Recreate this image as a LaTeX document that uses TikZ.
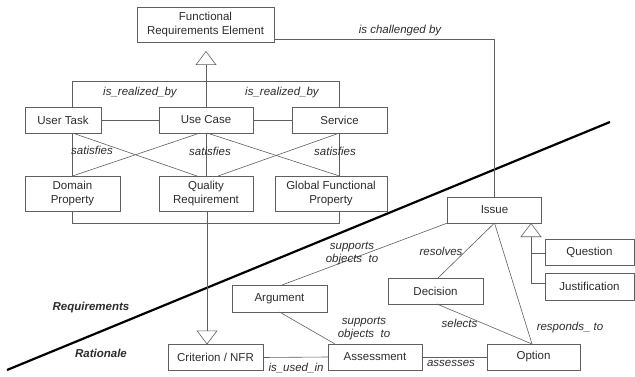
\documentclass[tikz,border=0pt]{standalone}
\usepackage{fontspec}
\setmainfont{Liberation Sans}
\usetikzlibrary{arrows.meta}
\definecolor{linec}{RGB}{95,95,95}
\definecolor{textc}{RGB}{45,45,45}
\begin{document}
\begin{tikzpicture}[x=1pt,y=-1pt,
  font=\fontsize{11.5}{14}\selectfont,
  box/.style={draw=linec, line width=0.6pt, text=textc, inner sep=0pt, outer sep=0pt, align=center},
  lbl/.style={text=textc, font=\fontsize{11.5}{13}\selectfont\itshape, inner sep=0pt, align=center},
  zone/.style={text=textc, font=\fontsize{11.5}{13}\selectfont\bfseries\itshape, inner sep=0pt},
  conn/.style={draw=linec, line width=0.6pt},
  gen/.style={conn, -{Triangle[open, length=14pt, width=21pt]}}
]
\useasboundingbox[fill=white] (0,0) rectangle (635,377);

% boxes
\node[box, minimum width=137pt, minimum height=35pt] (fre) at (205.5,24.5) {Functional\\Requirements Element};
\node[box, minimum width=76pt, minimum height=26pt] (ut) at (63,120) {User Task};
\node[box, minimum width=94pt, minimum height=26pt] (uc) at (206,120) {Use Case};
\node[box, minimum width=95pt, minimum height=26pt] (svc) at (339.5,120) {Service};
\node[box, minimum width=95pt, minimum height=35pt] (dp) at (72.5,193.5) {Domain\\Property};
\node[box, minimum width=94pt, minimum height=35pt] (qr) at (206,193.5) {Quality\\Requirement};
\node[box, minimum width=112pt, minimum height=35pt] (gfp) at (331,193.5) {Global Functional\\Property};
\node[box, minimum width=94pt, minimum height=26pt] (issue) at (494.5,210) {Issue};
\node[box, minimum width=89pt, minimum height=26pt] (quest) at (589.5,252) {Question};
\node[box, minimum width=89pt, minimum height=27pt] (just) at (589.5,286.5) {Justification};
\node[box, minimum width=95pt, minimum height=26pt] (dec) at (435.5,291) {Decision};
\node[box, minimum width=95pt, minimum height=27pt] (arg) at (279.5,298.5) {Argument};
\node[box, minimum width=95pt, minimum height=26pt] (crit) at (215.5,357.5) {Criterion / NFR};
\node[box, minimum width=94pt, minimum height=26pt] (assess) at (375,357) {Assessment};
\node[box, minimum width=93pt, minimum height=26pt] (opt) at (533.5,357) {Option};

% divider
\draw[line width=2.2pt, black] (7,370) -- (610,122);
\node[zone] (lreq) at (91,308) {Requirements};
\node[zone] (lrat) at (101,353) {Rationale};

% is challenged by
\draw[conn] ([yshift=-14.5pt]fre.east) -| (issue.north);
\node[lbl] (lchal) at (400,31) {is challenged by};

% generalisation to FRE
\draw[gen] (uc.north) -- ([yshift=-9pt]fre.south -| uc.north);
\draw[conn] (ut.north -| dp.north) -- ++(0,-26) -| (svc.north);
\node[lbl] (lrb1) at (140,93) {is\_realized\_by};
\node[lbl] (lrb2) at (282,93) {is\_realized\_by};

% horizontal links
\draw[conn] (ut.east) -- (uc.west);
\draw[conn] (uc.east) -- (svc.west);

% satisfies
\draw[conn] (ut.south -| dp.north) -- (dp.north);
\draw[conn] (uc.south) -- (qr.north);
\draw[conn] (svc.south) -- (svc.south |- gfp.north);
\draw[conn] (ut.south -| dp.north) -- ([xshift=-9pt]qr.north);
\draw[conn] ([xshift=-6pt]uc.south) -- (dp.north);
\draw[conn] ([xshift=1pt]uc.south) -- (svc.south |- gfp.north);
\draw[conn] (svc.south) -- ([xshift=12pt]qr.north);
\node[lbl] (ls1) at (92,150) {satisfies};
\node[lbl] (ls2) at (210,151) {satisfies};
\node[lbl] (ls3) at (335,151) {satisfies};

% bracket under domain / global
\draw[conn] (dp.south) -- (dp.south |- issue.south) -| (svc.south |- gfp.south);

% quality requirement -> criterion
\draw[gen] ([xshift=1pt]qr.south) -- ([xshift=1pt]qr.south |- crit.north);

% rationale links
\draw[conn] (crit.east) -- (assess.west);
\node[lbl] (luse) at (296,368) {is\_used\_in};
\draw[conn] (assess.east) -- (opt.west);
\node[lbl] (lass) at (451,363) {assesses};
\draw[conn] (arg.south) -- ([xshift=-40pt]assess.north);
\node[lbl] (lsup2) at (364,328.5) {supports\\objects\ \ to};
\draw[conn] (issue.south west) -- ([xshift=2.5pt]arg.north);
\node[lbl] (lsup1) at (352,253.5) {supports\\objects\ \ to};
\draw[conn] (issue.south) -- ([xshift=2.5pt]dec.north);
\node[lbl] (lres) at (441,251) {resolves};
\draw[conn] (issue.south) -- ([xshift=-1.5pt]opt.north);
\node[lbl] (lresp) at (570,328) {responds\_ to};
\draw[conn] ([xshift=1.5pt]dec.south) -- ([xshift=-1.5pt]opt.north);
\node[lbl] (lsel) at (459.5,323) {selects};

% generalisation to issue
\coordinate (gj) at (531,283.5);
\draw[gen] (just.west |- gj) -- (gj) -- (gj |- issue.south);
\draw[conn] ([yshift=-1pt]quest.west) -- ([yshift=-1pt]quest.west -| gj);
\end{tikzpicture}
\end{document}
